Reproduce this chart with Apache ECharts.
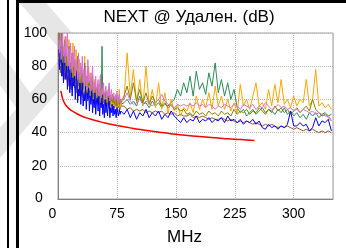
<!DOCTYPE html>
<html>
<head>
<meta charset="utf-8">
<script src="https://cdn.jsdelivr.net/npm/echarts@6/dist/echarts.min.js"></script>
<style>
  html, body { margin: 0; padding: 0; background: #fff; }
  #chart { width: 346px; height: 248px; }
</style>
</head>
<body>
<div id="chart"></div>
<script>
// frequency points (MHz) shared by the measured pairs
var freq = [
  1, 2, 3, 4, 5, 6, 7, 8, 9, 10,
  11, 12, 13, 14, 15, 16, 17, 18, 19, 20,
  21, 22, 23, 24, 25, 26, 27, 28, 29, 30,
  31, 32, 33, 34, 35, 36, 37, 38, 39, 40,
  41, 42, 43, 44, 45, 46, 47, 48, 49, 50,
  51, 52, 53, 54, 55, 56, 57, 58, 59, 60,
  61, 62, 63, 64, 65, 66, 67, 68, 69, 70,
  71, 72, 73, 74, 75, 76, 77, 78, 79, 80,
  84, 88, 92, 96, 100, 104, 108, 112, 116, 120,
  124, 128, 132, 136, 140, 144, 148, 152, 156, 160,
  164, 168, 172, 176, 180, 184, 188, 192, 196, 200,
  204, 208, 212, 216, 220, 224, 228, 232, 236, 240,
  244, 248, 252, 256, 260, 264, 268, 272, 276, 280,
  284, 288, 292, 296, 300, 304, 308, 312, 316, 320,
  324, 328, 332, 336, 340, 344, 348
]

var blue = [
  90, 78, 86, 92, 74, 82, 70, 88, 76, 72,
  80, 66, 75, 84, 64, 70, 78, 62, 73, 68,
  74, 60, 69, 77, 58, 66, 62, 72, 57, 65,
  70, 56, 63, 59, 68, 54, 64, 60, 67, 53,
  62, 57, 66, 52, 60, 55, 64, 51, 59, 61,
  53, 62, 50, 58, 55, 63, 51, 57, 49, 60,
  52, 58, 50, 56, 61, 49, 55, 52, 57, 50,
  56, 51, 54, 49, 55, 52, 50, 54, 51, 53,
  51, 54, 49, 53, 48, 52, 50, 54, 49, 52,
  50, 53, 48, 51, 49, 53, 50, 48, 46, 49,
  46, 48, 47, 50, 46, 48, 47, 49, 46, 48,
  47, 49, 46, 50, 47, 48, 46, 48, 45, 47,
  46, 48, 45, 47, 43, 42, 45, 43, 44, 42,
  44, 43, 45, 53, 44, 44, 46, 44, 45, 41,
  43, 49, 44, 47, 46, 48, 41
]

var green = [
  82, 90, 78, 86, 94, 76, 84, 80, 88, 74,
  82, 72, 78, 86, 70, 76, 80, 68, 75, 72,
  78, 66, 72, 80, 65, 70, 74, 64, 71, 67,
  72, 62, 68, 76, 61, 66, 70, 60, 67, 63,
  69, 60, 65, 72, 59, 63, 67, 58, 64, 61,
  66, 58, 63, 70, 57, 92, 60, 64, 57, 62,
  63, 56, 60, 66, 55, 59, 62, 56, 60, 57,
  61, 55, 59, 57, 63, 56, 58, 55, 60, 57,
  58, 60, 57, 59, 56, 62, 57, 58, 55, 59,
  56, 58, 55, 57, 56, 58, 60, 66, 62, 70,
  64, 74, 62, 77, 66, 70, 63, 76, 68, 82,
  64, 72, 62, 70, 60, 66, 55, 52, 54, 50,
  52, 54, 51, 53, 55, 52, 54, 53, 51, 54,
  52, 55, 51, 53, 50, 52, 49, 51, 48, 52,
  50, 52, 49, 51, 52, 50, 51
]

var orange = [
  84, 94, 80, 100, 78, 88, 92, 76, 98, 80,
  90, 74, 82, 96, 72, 80, 86, 70, 94, 75,
  80, 68, 90, 72, 76, 66, 84, 70, 74, 65,
  78, 64, 72, 86, 63, 68, 74, 62, 80, 66,
  70, 61, 76, 64, 68, 60, 72, 59, 66, 63,
  68, 58, 64, 74, 57, 62, 66, 56, 63, 60,
  65, 56, 61, 58, 68, 55, 60, 57, 63, 56,
  60, 55, 62, 57, 54, 59, 56, 66, 55, 58,
  60, 88, 62, 78, 58, 72, 56, 80, 57, 66,
  55, 70, 54, 64, 52, 60, 53, 57, 50, 55,
  53, 58, 52, 62, 54, 60, 55, 64, 54, 68,
  56, 62, 54, 60, 53, 58, 52, 69, 56, 60,
  54, 62, 70, 56, 58, 54, 66, 56, 69, 58,
  72, 57, 60, 55, 62, 56, 60, 58, 72, 56,
  60, 78, 56, 58, 55, 57, 54
]

var olive = [
  86, 100, 82, 92, 100, 80, 90, 84, 96, 78,
  88, 76, 84, 92, 74, 82, 78, 88, 72, 80,
  84, 70, 78, 74, 86, 68, 76, 72, 80, 67,
  76, 66, 72, 82, 65, 70, 74, 63, 71, 68,
  72, 62, 68, 75, 61, 66, 70, 60, 67, 63,
  69, 60, 64, 72, 59, 63, 66, 58, 64, 61,
  65, 58, 62, 60, 67, 57, 61, 59, 63, 58,
  62, 57, 60, 63, 56, 59, 61, 57, 60, 58,
  62, 68, 60, 70, 59, 66, 58, 64, 57, 62,
  58, 60, 56, 58, 55, 57, 54, 55, 53, 54,
  51, 52, 50, 53, 51, 52, 50, 53, 51, 52,
  50, 53, 51, 52, 50, 54, 51, 53, 52, 54,
  51, 53, 52, 55, 53, 51, 54, 52, 56, 53,
  55, 52, 54, 51, 53, 55, 52, 54, 56, 53,
  60, 54, 52, 50, 51, 49, 47
]

var violet = [
  96, 88, 100, 84, 94, 100, 86, 92, 82, 98,
  86, 100, 80, 90, 78, 94, 82, 76, 88, 80,
  92, 74, 84, 79, 72, 88, 76, 70, 82, 75,
  86, 70, 78, 68, 80, 73, 66, 84, 70, 72,
  76, 65, 71, 80, 64, 70, 66, 74, 62, 68,
  72, 62, 67, 75, 61, 66, 63, 70, 60, 65,
  68, 60, 64, 62, 70, 59, 63, 66, 60, 62,
  64, 59, 62, 60, 65, 58, 61, 63, 58, 60,
  60, 64, 59, 57, 58, 60, 57, 59, 58, 56,
  58, 60, 63, 59, 57, 56, 55, 57, 56, 57,
  56, 57, 56, 58, 56, 57, 55, 57, 56, 54,
  56, 55, 57, 56, 55, 57, 56, 54, 57, 56,
  55, 57, 54, 56, 55, 58, 56, 54, 55, 57,
  55, 56, 54, 55, 53, 54, 52, 54, 53, 52,
  53, 51, 52, 51, 50, 50, 48
]

var brown = [
  80, 88, 76, 84, 74, 82, 78, 72, 80, 74,
  78, 70, 75, 68, 77, 71, 66, 74, 69, 72,
  67, 73, 64, 70, 66, 62, 69, 65, 68, 63,
  67, 61, 65, 63, 60, 66, 62, 59, 64, 61,
  63, 59, 61, 64, 58, 62, 60, 57, 61, 59,
  61, 57, 60, 58, 62, 56, 59, 57, 60, 56,
  59, 56, 58, 57, 60, 55, 58, 56, 57, 55,
  57, 55, 56, 58, 54, 56, 55, 57, 54, 56,
  56, 54, 55, 53, 54, 53, 54, 52, 53, 52,
  53, 52, 53, 51, 52, 51, 52, 50, 51, 50,
  50, 51, 49, 50, 49, 50, 49, 48, 49, 48,
  48, 49, 48, 47, 48, 47, 46, 47, 46, 47,
  46, 45, 46, 45, 44, 45, 44, 45, 44, 43,
  44, 43, 44, 43, 42, 43, 42, 41, 42, 41,
  42, 41, 40, 41, 40, 41, 40
]

// limit line
var limitFreq = [3, 4, 5, 7, 10, 15, 20, 30, 40, 50, 60, 75, 90, 105, 120, 135, 150, 165, 180, 195, 210, 225, 240, 250]
var limitVal = [65, 64.5, 62, 59, 56.5, 54, 52.5, 50, 48.3, 47, 45.8, 44.3, 43, 41.8, 40.8, 39.9, 39, 38.3, 37.6, 37, 36.5, 36, 35.6, 35.3]

var xTicks = [0, 75, 150, 225, 300]
var yTicks = [20, 40, 60, 80, 100]

var titleText = 'NEXT @ Удален. (dB)'
var xName = 'MHz'

function pairs(xs, ys) {
  return xs.map(function (x, i) { return [x, ys[i]] })
}

var chart = echarts.init(document.getElementById('chart'), null, { renderer: 'canvas' })

var font = 'Liberation Sans, Arial, sans-serif'
var bandColor = '#e6e6e6'

function lineSeries(name, color, ys) {
  return {
    name: name,
    type: 'line',
    symbol: 'none',
    animation: false,
    lineStyle: { color: color, width: 1 },
    data: pairs(freq, ys)
  }
}

chart.setOption({
  backgroundColor: '#fff',
  animation: false,
  title: {
    text: titleText,
    left: 184,
    top: 4,
    textAlign: 'center',
    textStyle: { fontFamily: font, fontWeight: 'normal', fontSize: 17, color: '#000' }
  },
  graphic: [
    // faint watermark bands
    { type: 'line', z: -5, shape: { x1: 20, y1: -12, x2: 72, y2: 48 }, style: { stroke: bandColor, lineWidth: 20 } },
    { type: 'line', z: -5, shape: { x1: 72, y1: 60, x2: -15, y2: 160 }, style: { stroke: bandColor, lineWidth: 20 } },
    { type: 'line', z: -5, shape: { x1: -20, y1: 40, x2: 30, y2: 110 }, style: { stroke: bandColor, lineWidth: 20 } },
    // frame lines
    { type: 'rect', z: 10, shape: { x: 7, y: 0, width: 2, height: 248 }, style: { fill: '#000' } },
    { type: 'rect', z: 10, shape: { x: 16, y: 0, width: 3, height: 248 }, style: { fill: '#000' } },
    { type: 'rect', z: 10, shape: { x: 16, y: 0, width: 330, height: 3 }, style: { fill: '#000' } },
    // y-axis zero label sits a little further left than the others
    {
      type: 'text', z: 10, x: 35, y: 191,
      style: { text: '0', font: '14px ' + font, fill: '#000' }
    },
    {
      type: 'text', z: 10, left: 167, top: 229,
      style: { text: xName, font: '17px ' + font, fill: '#000' }
    }
  ],
  grid: {
    left: 58,
    right: 13,
    top: 33,
    bottom: 49,
    show: true,
    backgroundColor: '#fff',
    borderColor: '#a0a0a0',
    borderWidth: 1
  },
  xAxis: {
    type: 'value',
    min: 0,
    max: 350,
    interval: 75,
    axisLine: { show: true, lineStyle: { color: '#808080' } },
    axisTick: { show: false },
    splitLine: { show: true, lineStyle: { color: '#b8b8b8', type: 'dotted' } },
    axisLabel: {
      showMaxLabel: false,
      margin: 8,
      fontFamily: font,
      fontSize: 14,
      color: '#000',
      formatter: function (v) {
        if (xTicks.indexOf(v) < 0) return ''
        return v === 0 ? '{z|0}' : String(v)
      },
      rich: { z: { fontFamily: font, fontSize: 14, color: '#000', padding: [0, 11, 0, 0] } }
    }
  },
  yAxis: {
    type: 'value',
    min: 0,
    max: 100,
    interval: 20,
    axisLine: { show: true, lineStyle: { color: '#808080' } },
    axisTick: { show: false },
    splitLine: { show: true, lineStyle: { color: '#b8b8b8', type: 'dotted' } },
    axisLabel: {
      margin: 11,
      fontFamily: font,
      fontSize: 14,
      color: '#000',
      formatter: function (v) {
        return yTicks.indexOf(v) < 0 ? '' : String(v)
      }
    }
  },
  series: [
    lineSeries('brown', '#a0522d', brown),
    lineSeries('green', '#2e8b57', green),
    lineSeries('orange', '#ffa500', orange),
    lineSeries('olive', '#808000', olive),
    lineSeries('blue', '#0000ff', blue),
    lineSeries('violet', '#da70d6', violet),
    {
      name: 'limit',
      type: 'line',
      symbol: 'none',
      smooth: true,
      animation: false,
      lineStyle: { color: '#ff0000', width: 1.5 },
      data: pairs(limitFreq, limitVal)
    }
  ]
})
</script>
</body>
</html>
